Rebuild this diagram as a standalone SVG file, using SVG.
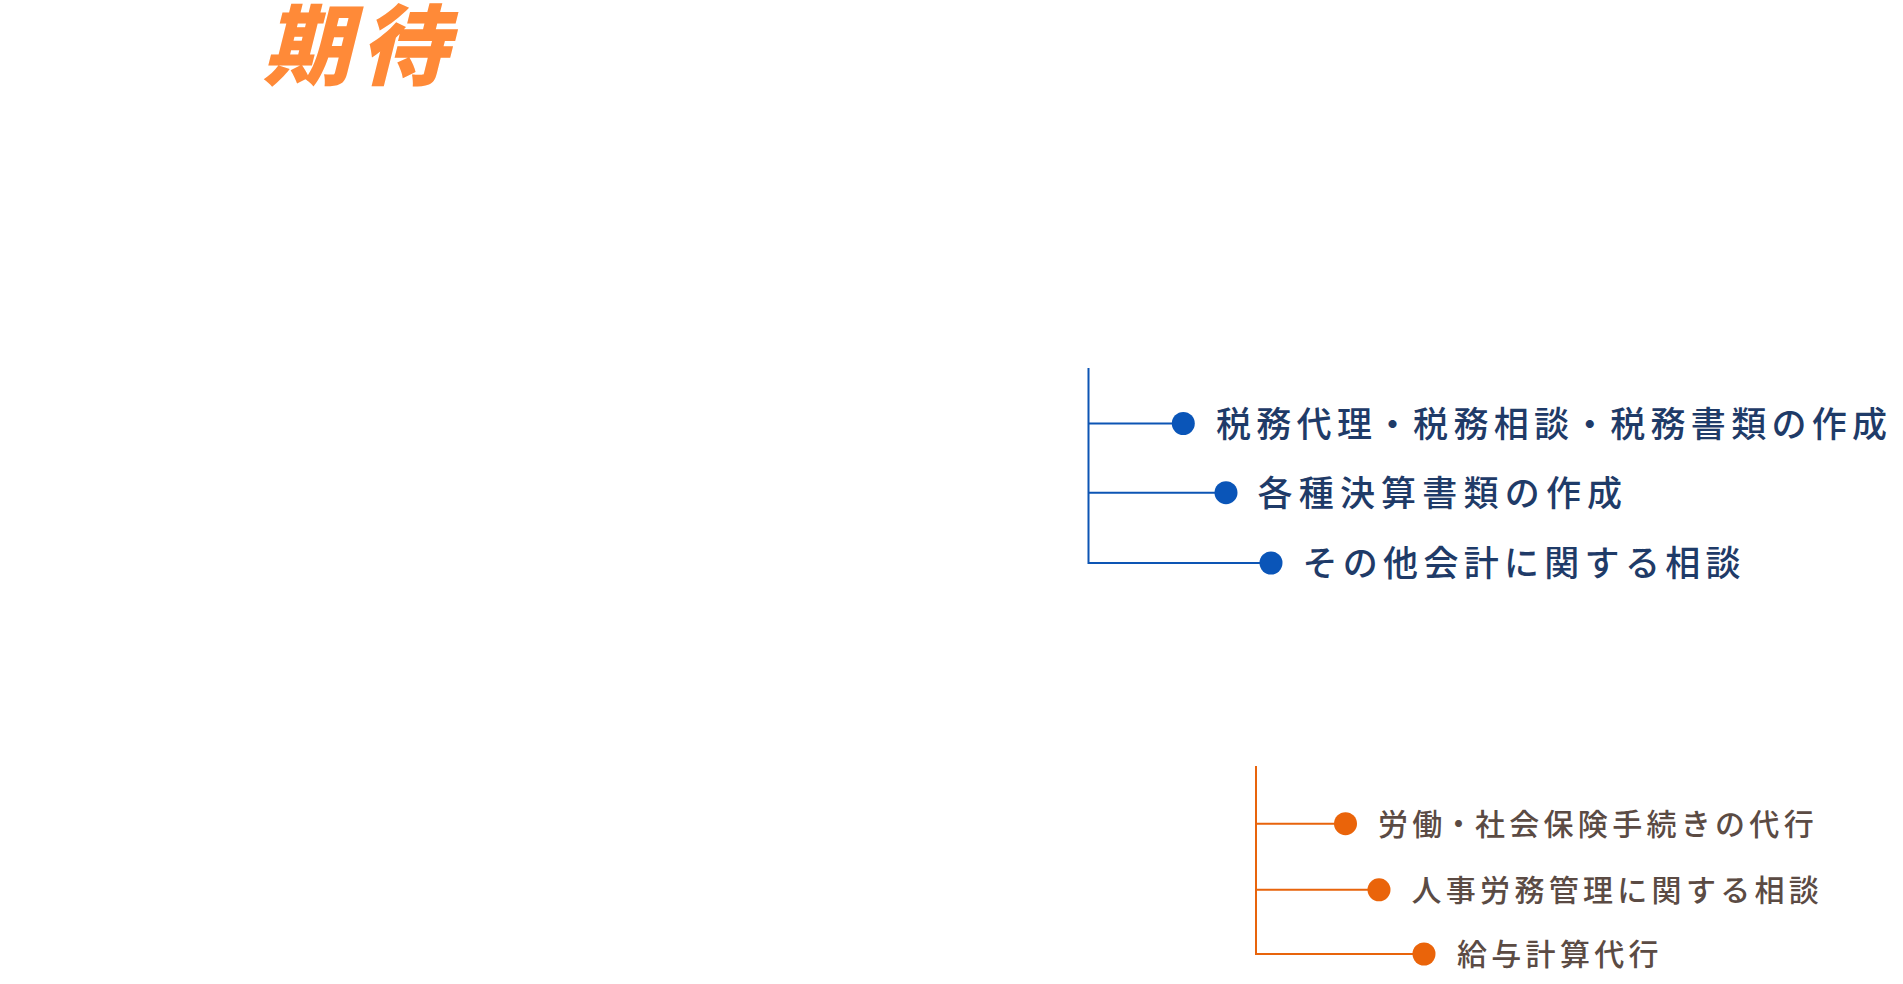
<svg xmlns="http://www.w3.org/2000/svg" width="1903" height="984" viewBox="0 0 1903 984">
<style>
.title{font-family:"Noto Sans CJK JP","Noto Sans CJK SC",sans-serif;font-weight:900;font-size:88px;fill:#ff8a38;letter-spacing:9px}
.bt{font-family:"Noto Sans CJK JP","Noto Sans CJK SC",sans-serif;font-weight:500;font-size:35px;fill:#1f3b68;letter-spacing:5.3px}
.ot{font-family:"Noto Sans CJK JP","Noto Sans CJK SC",sans-serif;font-weight:500;font-size:30px;fill:#5b4b44;letter-spacing:4.3px}
.bl{stroke:#0d55b4;stroke-width:2;fill:none}
.ol{stroke:#e8640c;stroke-width:2;fill:none}
.bd{fill:#0a55b8}
.od{fill:#ea640a}
</style>
<rect width="1903" height="984" fill="#ffffff"/>
<g id="title">
<text class="title" x="0" y="0" transform="translate(263,78) skewX(-14)">期待</text>
</g>
<g id="connectors">
<path class="bl" d="M1088.5 368 V563 H1271 M1088.5 423.5 H1183 M1088.5 492.7 H1226"/>
<path class="ol" d="M1256 766 V954 H1424 M1256 823.7 H1345 M1256 889.8 H1379"/>
</g>
<g id="node-b1"><circle class="bd" cx="1183.3" cy="423.5" r="11.5"/><text class="bt" x="1216" y="436.5">税務代理<tspan dx="-2.2">・</tspan><tspan dx="-2.2">税</tspan>務相談<tspan dx="-2.2">・</tspan><tspan dx="-2.2">税</tspan>務書類の作成</text></g>
<g id="node-b2"><circle class="bd" cx="1226" cy="492.7" r="11.5"/><text class="bt" x="1257.5" y="505.8" style="letter-spacing:6.2px">各種決算書類の作成</text></g>
<g id="node-b3"><circle class="bd" cx="1271" cy="563" r="11.5"/><text class="bt" x="1302.5" y="576">その他会計に関する相談</text></g>
<g id="node-o1"><circle class="od" cx="1345.5" cy="823.7" r="11.5"/><text class="ot" x="1378" y="835">労働<tspan dx="-3">・</tspan><tspan dx="-3">社</tspan>会保険手続きの代行</text></g>
<g id="node-o2"><circle class="od" cx="1379" cy="889.8" r="11.5"/><text class="ot" x="1411.5" y="901">人事労務管理に関する相談</text></g>
<g id="node-o3"><circle class="od" cx="1424" cy="954" r="11.5"/><text class="ot" x="1457" y="965">給与計算代行</text></g>
</svg>
